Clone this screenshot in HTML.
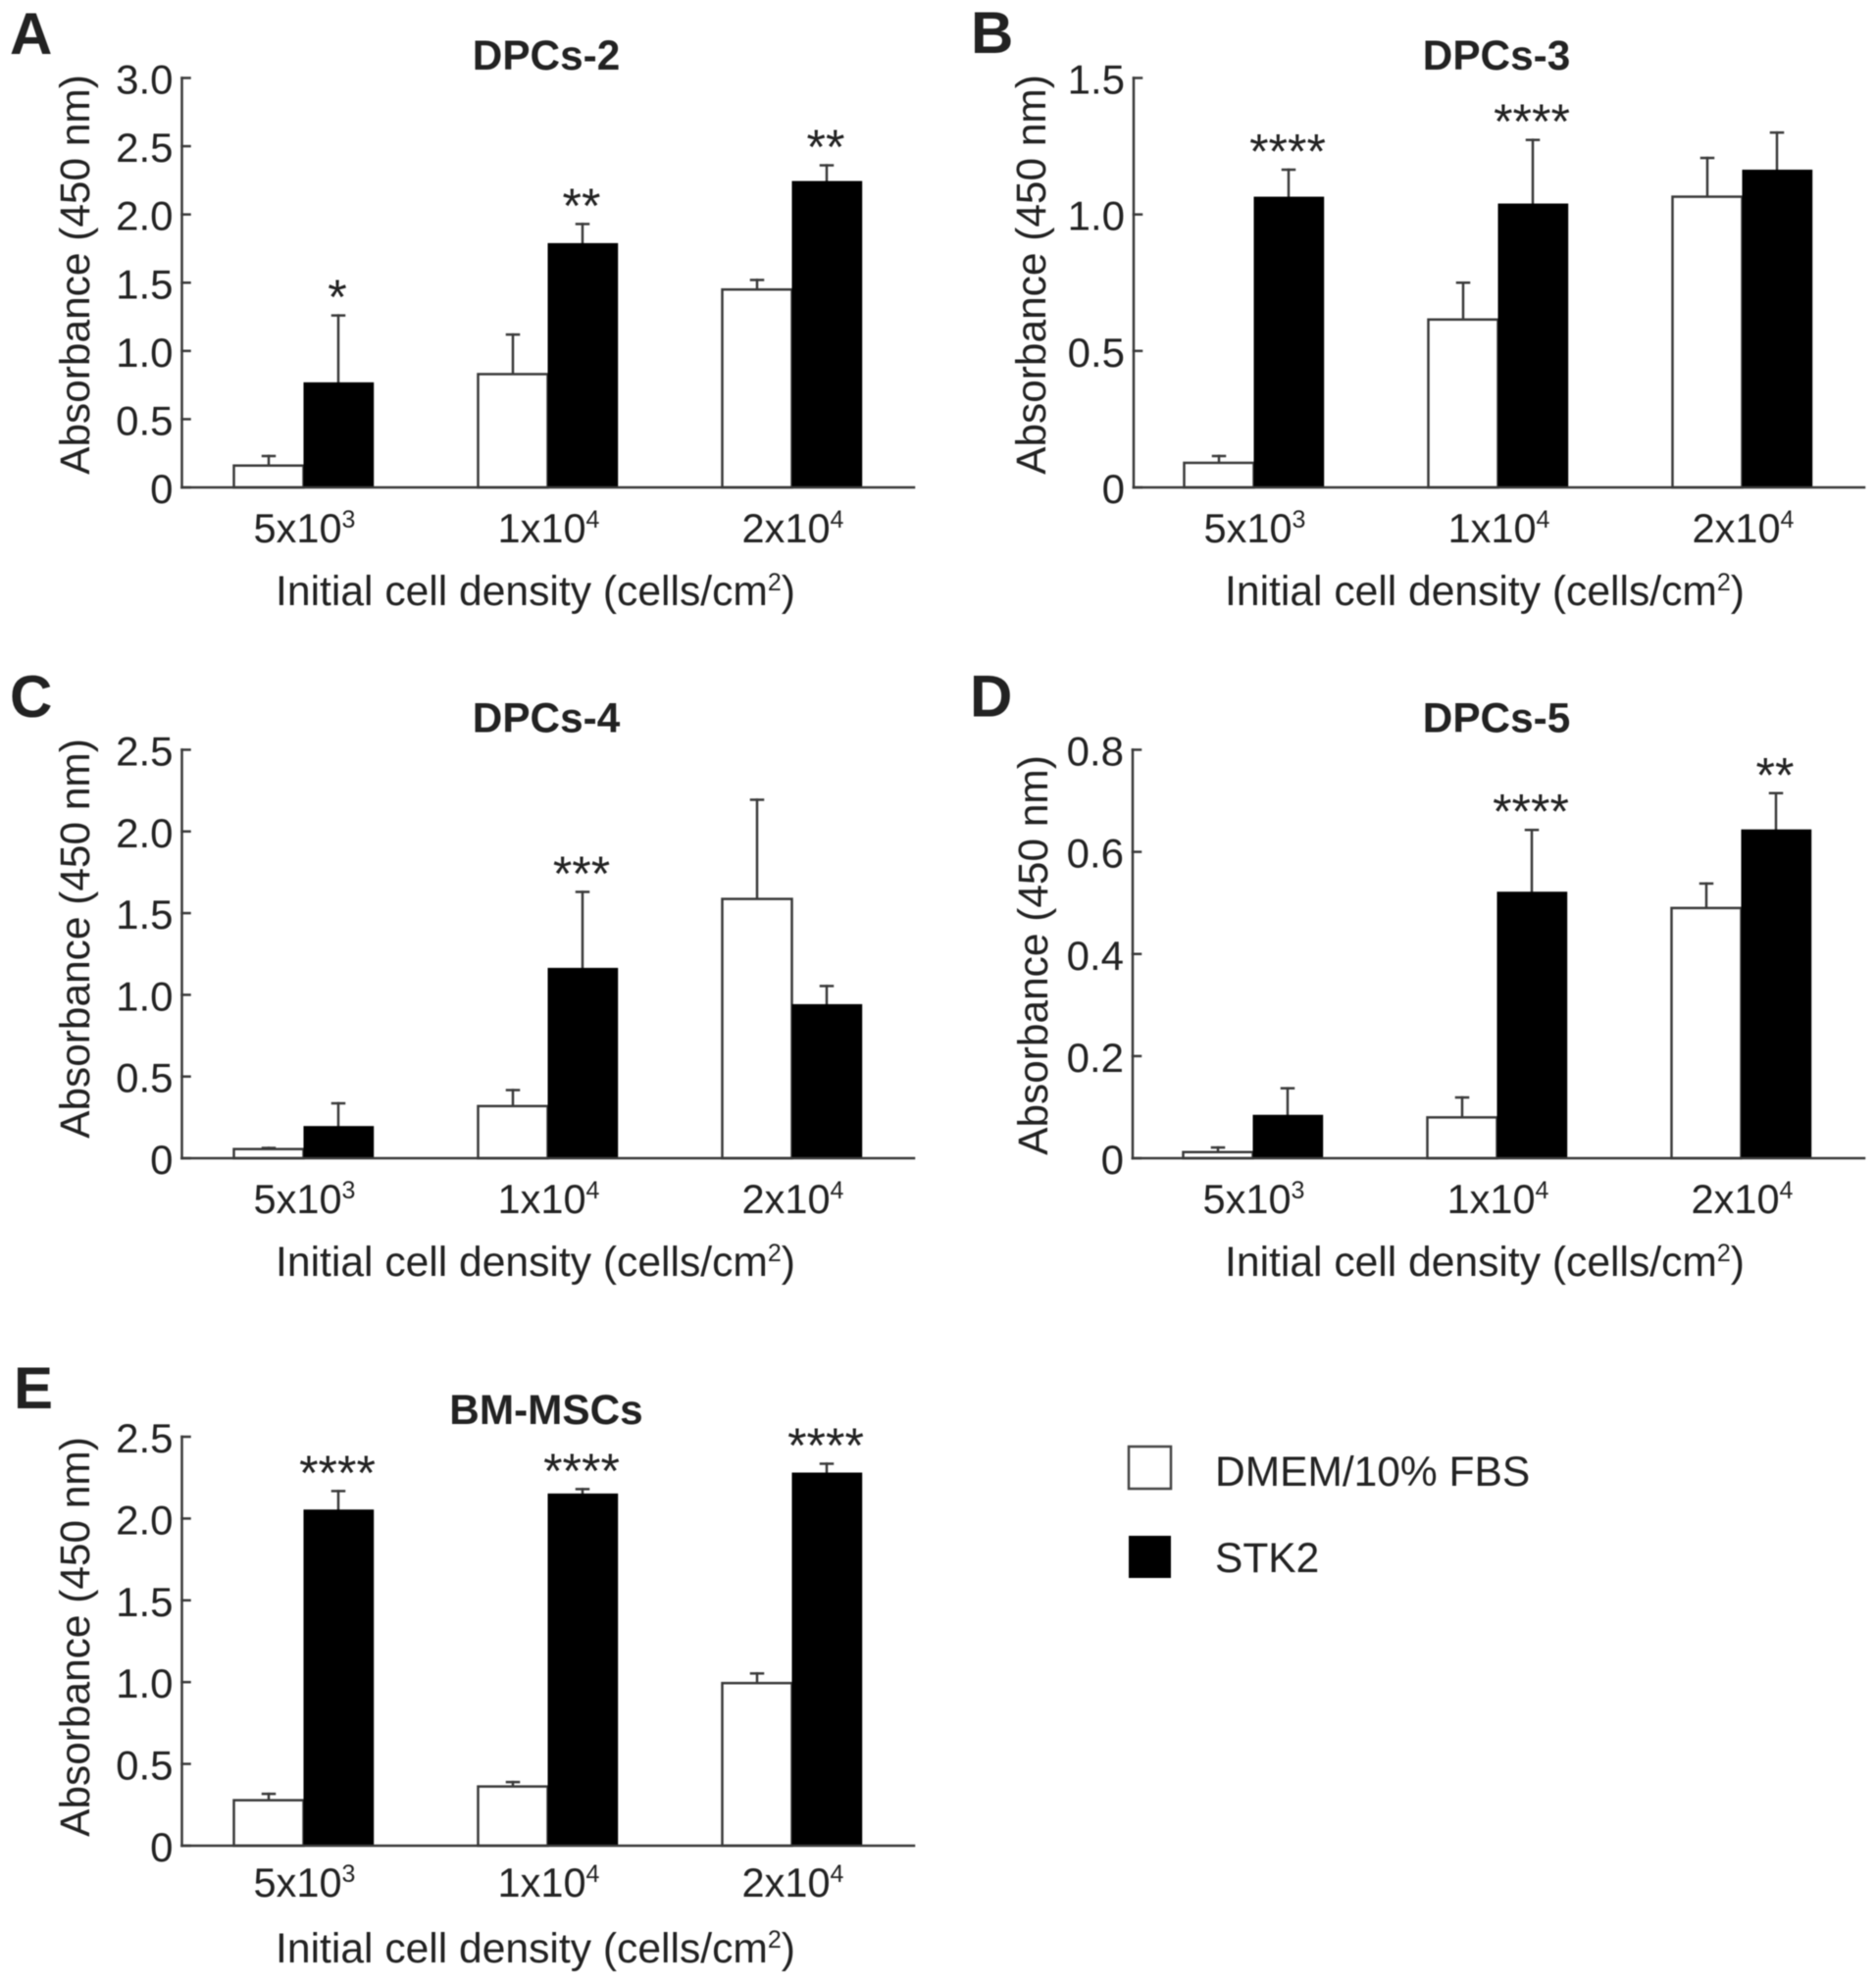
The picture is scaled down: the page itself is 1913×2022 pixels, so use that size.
<!DOCTYPE html>
<html lang="en">
<head>
<meta charset="utf-8">
<title>Absorbance by initial cell density</title>
<style>
  html, body { margin: 0; padding: 0; background: #fff; }
  #figure { display: block; width: 1913px; height: 2022px; filter: blur(0.5px); }
  text { font-family: "Liberation Sans", sans-serif; fill: #222; }
</style>
</head>
<body>
<svg id="figure" xmlns="http://www.w3.org/2000/svg" width="1913" height="2022" viewBox="0 0 1913 2022">
  <rect x="0" y="0" width="1913" height="2022" fill="#fff"/>
  <g>
    <rect x="1151" y="1475" width="43" height="43" fill="#fff" stroke="#444" stroke-width="2.5"/>
    <text x="1239" y="1515" font-size="42.5">DMEM/10% FBS</text>
    <rect x="1151" y="1566" width="43" height="43" fill="#000"/>
    <text x="1239" y="1603" font-size="42.5">STK2</text>
  </g>
</svg>
<script>
// Shared category labels
const categoryBase = ['5x10', '1x10', '2x10'];
const categoryExp = ['3', '4', '4'];

// Panel A: DPCs-2
const panelATicks = [0, 0.5, 1.0, 1.5, 2.0, 2.5, 3.0];
const panelAWhite = [0.16, 0.83, 1.45];
const panelAWhiteUpper = [0.23, 1.12, 1.52];
const panelABlack = [0.77, 1.79, 2.245];
const panelABlackUpper = [1.26, 1.93, 2.36];
const panelAStars = ['*', '**', '**'];

// Panel B: DPCs-3
const panelBTicks = [0, 0.5, 1.0, 1.5];
const panelBWhite = [0.09, 0.615, 1.065];
const panelBWhiteUpper = [0.115, 0.75, 1.207];
const panelBBlack = [1.065, 1.04, 1.164];
const panelBBlackUpper = [1.164, 1.273, 1.30];
const panelBStars = ['****', '****', ''];

// Panel C: DPCs-4
const panelCTicks = [0, 0.5, 1.0, 1.5, 2.0, 2.5];
const panelCWhite = [0.056, 0.319, 1.587];
const panelCWhiteUpper = [0.063, 0.417, 2.194];
const panelCBlack = [0.197, 1.165, 0.943];
const panelCBlackUpper = [0.336, 1.63, 1.054];
const panelCStars = ['', '***', ''];

// Panel D: DPCs-5
const panelDTicks = [0, 0.2, 0.4, 0.6, 0.8];
const panelDWhite = [0.012, 0.08, 0.49];
const panelDWhiteUpper = [0.021, 0.119, 0.538];
const panelDBlack = [0.085, 0.522, 0.644];
const panelDBlackUpper = [0.137, 0.643, 0.715];
const panelDStars = ['', '****', '**'];

// Panel E: BM-MSCs
const panelETicks = [0, 0.5, 1.0, 1.5, 2.0, 2.5];
const panelEWhite = [0.278, 0.362, 0.994];
const panelEWhiteUpper = [0.317, 0.389, 1.053];
const panelEBlack = [2.055, 2.153, 2.281];
const panelEBlackUpper = [2.168, 2.18, 2.335];
const panelEStars = ['****', '****', '****'];

const SVG_NS = 'http://www.w3.org/2000/svg';
const figure = document.getElementById('figure');
const INK = '#3a3a3a';
const BAR_W = 71;

function node(parent, tag, name, props) {
  const el = document.createElementNS(SVG_NS, tag);
  
  
  for (const k in props) el.setAttribute(k, props[k]);
  parent.appendChild(el);
  return el;
}
function seg(parent, name, x1, y1, x2, y2, w) {
  return node(parent, 'line', name, { x1: x1, y1: y1, x2: x2, y2: y2, stroke: INK, 'stroke-width': w || 2.5, 'stroke-linecap': 'square' });
}
function label(parent, name, str, x, y, size, props) {
  const el = node(parent, 'text', name, Object.assign({ x: x, y: y, 'font-size': size }, props || {}));
  el.textContent = str;
  return el;
}
function superscripted(parent, name, base, exp, tail, x, y, size, anchor) {
  const el = node(parent, 'text', name, { x: x, y: y, 'font-size': size, 'text-anchor': anchor });
  el.appendChild(document.createTextNode(base));
  const sup = document.createElementNS(SVG_NS, 'tspan');
  sup.setAttribute('font-size', '25');
  sup.setAttribute('dy', '-15');
  sup.textContent = exp;
  el.appendChild(sup);
  if (tail) {
    const rest = document.createElementNS(SVG_NS, 'tspan');
    rest.setAttribute('dy', '15');
    rest.textContent = tail;
    el.appendChild(rest);
  }
  return el;
}

function drawPanel(p) {
  const g = node(figure, 'g', 'panel-' + p.id, {});
  const maxV = p.ticks[p.ticks.length - 1];
  const y = v => p.base - (v / maxV) * (p.base - p.top);
  const x = i => p.firstCenter + i * p.step;

  label(g, 'panel-letter-' + p.id, p.id.toUpperCase(), p.letterX, p.letterY, 60, { 'font-weight': 'bold', fill: '#000' });
  label(g, 'chart-title-' + p.id, p.title, p.titleX, p.titleY, 42.3, { 'font-weight': 'bold', 'text-anchor': 'middle', fill: '#111' });

  // bars and error bars
  p.white.forEach((v, i) => {
    const cx = x(i) - BAR_W / 2;
    seg(g, 'error-stem-white-' + i, cx, y(v), cx, y(p.whiteUpper[i]), 2.5);
    seg(g, 'error-cap-white-' + i, cx - 6, y(p.whiteUpper[i]), cx + 6, y(p.whiteUpper[i]), 2.5);
    node(g, 'rect', 'bar-white-' + i, { x: x(i) - BAR_W, y: y(v), width: BAR_W, height: p.base - y(v), fill: '#fff', stroke: INK, 'stroke-width': 2.5 });
  });
  p.black.forEach((v, i) => {
    const cx = x(i) + BAR_W / 2;
    seg(g, 'error-stem-black-' + i, cx, y(v), cx, y(p.blackUpper[i]), 2.5);
    seg(g, 'error-cap-black-' + i, cx - 6, y(p.blackUpper[i]), cx + 6, y(p.blackUpper[i]), 2.5);
    node(g, 'rect', 'bar-black-' + i, { x: x(i), y: y(v), width: BAR_W + 0.7, height: p.base - y(v), fill: '#000' });
    if (p.stars[i]) {
      label(g, 'significance-' + i, p.stars[i], cx - 1, y(p.blackUpper[i]) - 1.5, 50, { 'text-anchor': 'middle' });
    }
  });

  // axes
  seg(g, 'y-axis-line', p.axisX, p.top, p.axisX, p.base, 2.5);
  seg(g, 'x-axis-line', p.axisX, p.base, p.axisEnd, p.base, 2.5);
  p.ticks.forEach(v => {
    seg(g, 'y-tick-' + v, p.axisX, y(v), p.axisX + 8, y(v), 2.5);
    label(g, 'y-tick-label-' + v, v === 0 ? '0' : v.toFixed(1), p.axisX - 9, y(v) + 16, 42, { 'text-anchor': 'end' });
  });
  categoryBase.forEach((c, i) => {
    superscripted(g, 'x-tick-label-' + i, c, categoryExp[i], '', x(i) + 1, p.base + p.catOffset, 41.5, 'middle');
  });
  superscripted(g, 'x-axis-title', 'Initial cell density (cells/cm', '2', ')', p.xTitleX, p.xTitleY, 42.6, 'middle');

  const yt = label(g, 'y-axis-title', 'Absorbance (450 nm)', 0, 0, 42.4, { 'text-anchor': 'middle' });
  yt.setAttribute('transform', 'translate(' + p.yTitleX + ',' + p.yTitleY + ') rotate(-90)');
}

drawPanel({ id: 'a', title: 'DPCs-2', ticks: panelATicks, white: panelAWhite, whiteUpper: panelAWhiteUpper, black: panelABlack, blackUpper: panelABlackUpper, stars: panelAStars,
  axisX: 185.5, axisEnd: 932, top: 79.5, base: 497, firstCenter: 309.5, step: 249, catOffset: 56,
  letterX: 10, letterY: 55, titleX: 557, titleY: 71, xTitleX: 546, xTitleY: 617, yTitleX: 91, yTitleY: 280 });
drawPanel({ id: 'b', title: 'DPCs-3', ticks: panelBTicks, white: panelBWhite, whiteUpper: panelBWhiteUpper, black: panelBBlack, blackUpper: panelBBlackUpper, stars: panelBStars,
  axisX: 1156, axisEnd: 1901, top: 79.5, base: 497, firstCenter: 1278.5, step: 249, catOffset: 56,
  letterX: 990, letterY: 54, titleX: 1526, titleY: 71, xTitleX: 1514, xTitleY: 617, yTitleX: 1066, yTitleY: 280 });
drawPanel({ id: 'c', title: 'DPCs-4', ticks: panelCTicks, white: panelCWhite, whiteUpper: panelCWhiteUpper, black: panelCBlack, blackUpper: panelCBlackUpper, stars: panelCStars,
  axisX: 185.5, axisEnd: 932, top: 764.5, base: 1181, firstCenter: 309.5, step: 249, catOffset: 56,
  letterX: 10, letterY: 731, titleX: 557, titleY: 746.5, xTitleX: 546, xTitleY: 1301, yTitleX: 91, yTitleY: 957 });
drawPanel({ id: 'd', title: 'DPCs-5', ticks: panelDTicks, white: panelDWhite, whiteUpper: panelDWhiteUpper, black: panelDBlack, blackUpper: panelDBlackUpper, stars: panelDStars,
  axisX: 1155, axisEnd: 1901, top: 764.5, base: 1181, firstCenter: 1277.5, step: 249, catOffset: 56,
  letterX: 989, letterY: 730.5, titleX: 1526, titleY: 746.5, xTitleX: 1514, xTitleY: 1301, yTitleX: 1068, yTitleY: 974 });
drawPanel({ id: 'e', title: 'BM-MSCs', ticks: panelETicks, white: panelEWhite, whiteUpper: panelEWhiteUpper, black: panelEBlack, blackUpper: panelEBlackUpper, stars: panelEStars,
  axisX: 185.5, axisEnd: 932, top: 1465, base: 1882, firstCenter: 309.5, step: 249, catOffset: 52,
  letterX: 14, letterY: 1436, titleX: 557, titleY: 1452, xTitleX: 546, xTitleY: 2001, yTitleX: 91, yTitleY: 1669 });
</script>
</body>
</html>
